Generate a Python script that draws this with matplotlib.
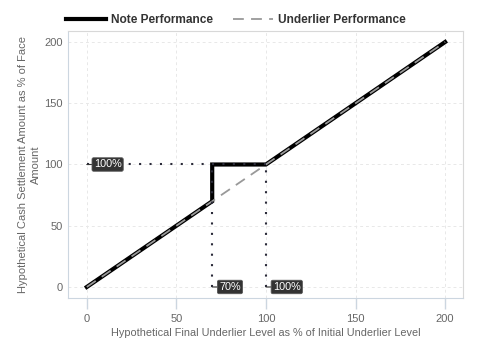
import matplotlib
matplotlib.use("Agg")
import matplotlib.pyplot as plt

plt.rcParams['font.family'] = ['Liberation Sans', 'DejaVu Sans']

# note payoff and underlier
note_x = [0, 70, 70, 100, 200]
note_y = [0, 70, 100, 100, 200]
under_x = [0, 200]
under_y = [0, 200]

# dotted reference lines and their labels
barrier = 70
cap_level = 100
label_pts = [(0, 100, '100%'), (70, 0, '70%'), (100, 0, '100%')]

fig = plt.figure(figsize=(4.8, 3.6), dpi=100)
ax = fig.add_axes([68/480, 1 - 298/360, (463-68)/480, (298-31)/360])

ax.plot(note_x, note_y, color='black', lw=3, solid_joinstyle='miter', zorder=3,
        label='Note Performance')
ax.plot(under_x, under_y, color='#999999', lw=1.3, ls=(0, (6, 4)), zorder=4,
        label='Underlier Performance')

dot = dict(color='#2b2b3a', lw=1.5, ls=(0, (1, 4)), zorder=5)
ax.plot([0, cap_level], [cap_level, cap_level], **dot)
ax.plot([barrier, barrier], [0, cap_level], **dot)
ax.plot([cap_level, cap_level], [0, cap_level], **dot)

for x, y, txt in label_pts:
    ax.annotate(txt, (x, y), xytext=(5, 0), textcoords='offset points',
                va='center', ha='left', fontsize=7.8, color='white',
                bbox=dict(boxstyle='round,pad=0.16,rounding_size=0.15',
                          fc='#333333', ec='#555555', lw=0.6),
                arrowprops=dict(arrowstyle='-', color='#333333', lw=0.8,
                                shrinkA=0, shrinkB=0),
                zorder=6)

ax.set_xlim(-10.5, 210)
ax.set_ylim(-9, 209)
ax.set_xticks([0, 50, 100, 150, 200])
ax.set_yticks([0, 50, 100, 150, 200])
ax.grid(True, color='#e8e8e8', ls=(0, (3, 3)), lw=0.7)
ax.set_axisbelow(True)

for s in ['top', 'right']:
    ax.spines[s].set_color('#d8d8d8')
for s in ['left', 'bottom']:
    ax.spines[s].set_color('#ccd6e0')
ax.tick_params(axis='x', colors='#ccd6e0', labelcolor='#666666', labelsize=8,
               length=8, width=1)
ax.tick_params(axis='y', length=0, labelcolor='#666666', labelsize=8, pad=4)

ax.set_xlabel('Hypothetical Final Underlier Level as % of Initial Underlier Level',
              color='#666666', fontsize=7.8, labelpad=3)
ax.set_ylabel('Hypothetical Cash Settlement Amount as % of Face\nAmount',
              color='#666666', fontsize=8, linespacing=1.3, va='center')
ax.yaxis.set_label_coords(-0.097, 0.5)

leg = fig.legend(loc='center', bbox_to_anchor=(0.492, 0.945), ncol=2,
                 frameon=False, handlelength=3.3, columnspacing=1.7,
                 handletextpad=0.45, prop={'weight': 'bold', 'size': 8.6})
for t in leg.get_texts():
    t.set_color('#333333')

fig.savefig('out.png', dpi=100)
